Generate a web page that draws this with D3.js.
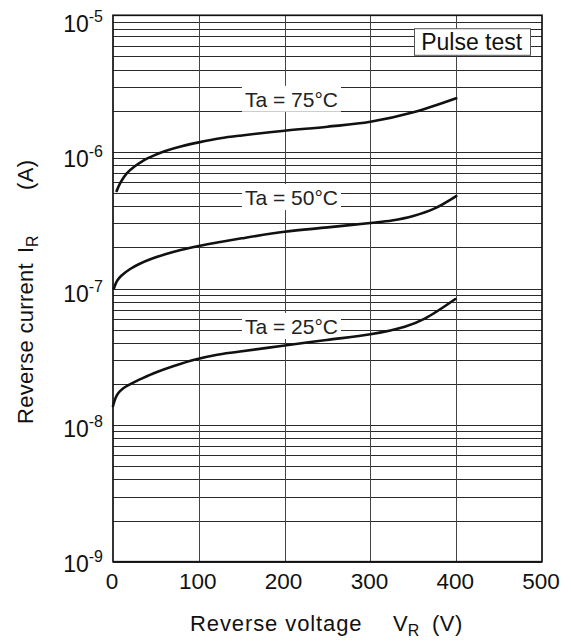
<!DOCTYPE html>
<html>
<head>
<meta charset="utf-8">
<script src="https://cdn.jsdelivr.net/npm/d3@7"></script>
<style>
  html, body { margin: 0; padding: 0; background: #fff; }
  svg { display: block; font-family: "Liberation Sans", Arial, Helvetica, sans-serif; }
</style>
</head>
<body>
<svg id="chart" width="571" height="644"></svg>
<script>
// ---- data ----
const xTicks = [0, 100, 200, 300, 400, 500];
const yDecades = [-9, -8, -7, -6, -5];
const minorMultipliers = [2, 3, 4, 5, 6, 7, 8, 9];

const vr75 = [4.3, 8.2, 16, 25, 35.4, 48, 61, 80, 100, 125, 150, 200, 250, 300, 350, 400];
const ir75 = [5.175e-7, 5.89e-7, 6.97e-7, 7.815e-7, 8.65e-7, 9.44e-7, 1.015e-6, 1.099e-6, 1.174e-6, 1.258e-6, 1.32e-6, 1.43e-6, 1.53e-6, 1.66e-6, 1.95e-6, 2.47e-6];

const vr50 = [1, 5, 10, 20, 30, 45, 60, 80, 100, 125, 150, 200, 250, 300, 325, 350, 375, 400];
const ir50 = [1.0e-7, 1.144e-7, 1.245e-7, 1.389e-7, 1.505e-7, 1.649e-7, 1.773e-7, 1.92e-7, 2.047e-7, 2.19e-7, 2.33e-7, 2.6e-7, 2.8e-7, 3.02e-7, 3.15e-7, 3.4e-7, 3.86e-7, 4.75e-7];

const vr25 = [0, 3, 6, 12, 22, 35, 49, 70, 96, 120, 146, 198, 249, 300, 340, 364, 399];
const ir25 = [1.379e-8, 1.58e-8, 1.709e-8, 1.862e-8, 2.023e-8, 2.212e-8, 2.415e-8, 2.695e-8, 3.02e-8, 3.26e-8, 3.44e-8, 3.81e-8, 4.2e-8, 4.62e-8, 5.25e-8, 6.05e-8, 8.37e-8];

const seriesNames = ["Ta = 75°C", "Ta = 50°C", "Ta = 25°C"];
// label anchors in data units (centre voltage, baseline current)
const labelV = [208, 208, 208];
const labelI = [2.14e-6, 4.08e-7, 4.65e-8];

const series = [
  { name: seriesNames[0], v: vr75, i: ir75 },
  { name: seriesNames[1], v: vr50, i: ir50 },
  { name: seriesNames[2], v: vr25, i: ir25 }
];

// ---- layout ----
const plot = { left: 113, right: 542, top: 15.3, bottom: 561.7 };
const svg = d3.select("#chart");

const x = d3.scaleLinear().domain([0, 500]).range([plot.left, plot.right]);
const y = d3.scaleLog().domain([1e-9, 1e-5]).range([plot.bottom, plot.top]);

svg.append("rect").attr("width", 571).attr("height", 644).attr("fill", "#fff");

// ---- grid ----
const grid = svg.append("g").attr("shape-rendering", "crispEdges");
const hVals = [];
yDecades.forEach(d => {
  hVals.push(Math.pow(10, d));
  if (d < -5) minorMultipliers.forEach(m => hVals.push(m * Math.pow(10, d)));
});
grid.selectAll("line.h").data(hVals).join("line")
  .attr("class", "h")
  .attr("x1", plot.left).attr("x2", plot.right)
  .attr("y1", d => Math.round(y(d)) + 0.5).attr("y2", d => Math.round(y(d)) + 0.5)
  .attr("stroke", "#2a2a2a").attr("stroke-width", 1);

grid.selectAll("line.v").data(xTicks.slice(1, -1)).join("line")
  .attr("class", "v")
  .attr("x1", d => Math.round(x(d)) + 0.5).attr("x2", d => Math.round(x(d)) + 0.5)
  .attr("y1", plot.top).attr("y2", plot.bottom)
  .attr("stroke", "#444").attr("stroke-width", 1);

// ---- curve labels with white backgrounds ----
const labG = svg.append("g");
const labBg = labG.append("g");
const labTx = labG.append("g");
series.forEach((s, k) => {
  const t = labTx.append("text")
    .attr("x", x(labelV[k]))
    .attr("y", y(labelI[k]))
    .attr("text-anchor", "middle")
    .attr("font-size", 21)
    .attr("fill", "#222")
    .text(s.name);
  const bb = t.node().getBBox();
  labBg.append("rect")
    .attr("x", bb.x - 3).attr("y", bb.y - 2)
    .attr("width", bb.width + 6).attr("height", bb.height + 3)
    .attr("fill", "#fff");
});

// ---- Pulse test box ----
const pg = svg.append("g");
const pRect = pg.append("rect");
const pt = pg.append("text")
  .attr("x", 471.7).attr("y", 50.3)
  .attr("text-anchor", "middle")
  .attr("font-size", 23)
  .attr("fill", "#111")
  .text("Pulse test");
const pbb = pt.node().getBBox();
pRect
  .attr("x", Math.round(pbb.x - 7) + 0.5).attr("y", 28.7)
  .attr("width", Math.round(pbb.width + 14)).attr("height", 26.6)
  .attr("fill", "#fff").attr("stroke", "#555").attr("stroke-width", 1);

// ---- curves ----
const line = d3.line().x(d => x(d[0])).y(d => y(d[1])).curve(d3.curveCatmullRom.alpha(0.5));
svg.append("g").selectAll("path").data(series).join("path")
  .attr("d", s => line(s.v.map((v, j) => [v, s.i[j]])))
  .attr("fill", "none").attr("stroke", "#111").attr("stroke-width", 2.6)
  .attr("stroke-linecap", "round").attr("stroke-linejoin", "round");

// ---- frame ----
svg.append("rect")
  .attr("x", plot.left).attr("y", plot.top)
  .attr("width", plot.right - plot.left).attr("height", plot.bottom - plot.top)
  .attr("fill", "none").attr("stroke", "#111").attr("stroke-width", 1.7);

// ---- x tick labels ----
svg.append("g").selectAll("text").data(xTicks).join("text")
  .attr("x", d => x(d) - 1)
  .attr("y", plot.bottom + 27.6)
  .attr("text-anchor", "middle")
  .attr("font-size", 22.5)
  .attr("fill", "#111")
  .text(d => d);

// ---- y tick labels (10^n) ----
const yl = svg.append("g").selectAll("text").data(yDecades).join("text")
  .attr("x", 103)
  .attr("y", (d, k) => y(Math.pow(10, d)) + 10 + k * 1.6)
  .attr("text-anchor", "end")
  .attr("fill", "#111");
yl.append("tspan").attr("font-size", 23).text("10");
yl.append("tspan").attr("font-size", 16).attr("dy", -10).text(d => "-" + (-d));

// ---- axis titles ----
const xt = svg.append("g").attr("fill", "#111");
xt.append("text").attr("x", 190).attr("y", 631).attr("font-size", 22)
  .attr("letter-spacing", 0.9).text("Reverse voltage");
const xv = xt.append("text").attr("x", 393).attr("y", 631).attr("font-size", 22);
xv.append("tspan").text("V");
xv.append("tspan").attr("font-size", 16).attr("dy", 5).text("R");
xt.append("text").attr("x", 432).attr("y", 631).attr("font-size", 22)
  .attr("letter-spacing", 0.5).text("(V)");

const yt = svg.append("g").attr("fill", "#111").attr("transform", "translate(33,0) rotate(-90)");
yt.append("text").attr("x", -424).attr("y", 0).attr("font-size", 22)
  .attr("letter-spacing", 0.3).text("Reverse current");
const yi = yt.append("text").attr("x", -253).attr("y", 0).attr("font-size", 22);
yi.append("tspan").text("I");
yi.append("tspan").attr("font-size", 16).attr("dy", 5).text("R");
yt.append("text").attr("x", -190).attr("y", 0).attr("font-size", 22)
  .attr("letter-spacing", 0.4).text("(A)");
</script>
</body>
</html>
